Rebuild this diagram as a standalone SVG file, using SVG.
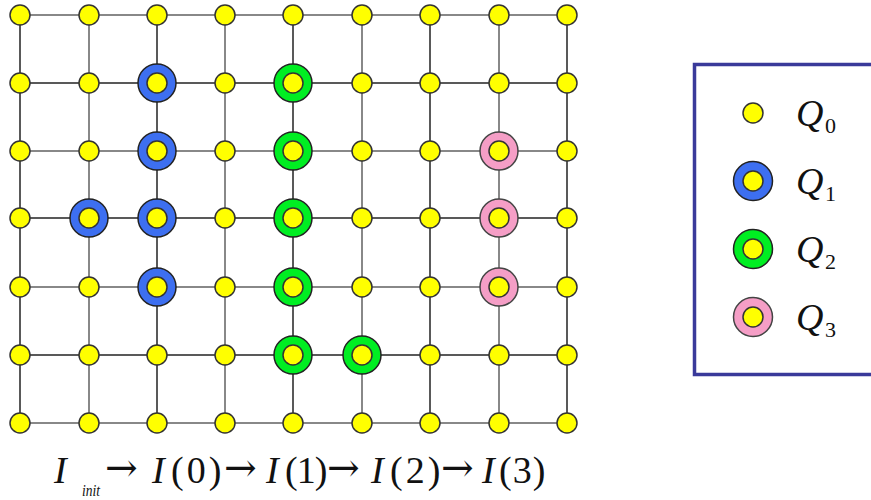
<svg xmlns="http://www.w3.org/2000/svg" width="871" height="500" viewBox="0 0 871 500">
<style>
.gb{stroke:#222;stroke-width:1.5}
.gg{stroke:#888;stroke-width:2}
.n{fill:#ffff00;stroke:#333;stroke-width:1.5}
.b{fill:#3d6ff0;stroke:#222;stroke-width:1.5}
.g{fill:#00ee22;stroke:#222;stroke-width:1.5}
.p{fill:#f59ec6;stroke:#444;stroke-width:1.5}
.t{font-family:"Liberation Serif","Times New Roman",serif;fill:#111}
.i{font-style:italic}
.a{font-family:"DejaVu Serif",serif;font-size:39px;fill:#111}
</style>
<rect width="871" height="500" fill="#fff"/>
<g id="connectors">
<line class="gb" x1="20" y1="15" x2="20" y2="423"/>
<line class="gg" x1="89" y1="15" x2="89" y2="423"/>
<line class="gb" x1="157" y1="15" x2="157" y2="423"/>
<line class="gg" x1="225" y1="15" x2="225" y2="423"/>
<line class="gb" x1="293" y1="15" x2="293" y2="423"/>
<line class="gg" x1="362" y1="15" x2="362" y2="423"/>
<line class="gb" x1="430" y1="15" x2="430" y2="423"/>
<line class="gg" x1="499" y1="15" x2="499" y2="423"/>
<line class="gb" x1="567" y1="15" x2="567" y2="423"/>
<line class="gg" x1="20" y1="15" x2="567" y2="15"/>
<line class="gb" x1="20" y1="83" x2="567" y2="83"/>
<line class="gg" x1="20" y1="151" x2="567" y2="151"/>
<line class="gb" x1="20" y1="218" x2="567" y2="218"/>
<line class="gg" x1="20" y1="287" x2="567" y2="287"/>
<line class="gb" x1="20" y1="355" x2="567" y2="355"/>
<line class="gg" x1="20" y1="423" x2="567" y2="423"/>
</g>
<g id="rings">
<circle class="b" cx="157" cy="83" r="19"/>
<circle class="b" cx="157" cy="151" r="19"/>
<circle class="b" cx="89" cy="218" r="19"/>
<circle class="b" cx="157" cy="218" r="19"/>
<circle class="b" cx="157" cy="287" r="19"/>
<circle class="g" cx="293" cy="83" r="19"/>
<circle class="g" cx="293" cy="151" r="19"/>
<circle class="g" cx="293" cy="218" r="19"/>
<circle class="g" cx="293" cy="287" r="19"/>
<circle class="g" cx="293" cy="355" r="19"/>
<circle class="g" cx="362" cy="355" r="19"/>
<circle class="p" cx="499" cy="151" r="19"/>
<circle class="p" cx="499" cy="218" r="19"/>
<circle class="p" cx="499" cy="287" r="19"/>
</g>
<g id="nodes">
<g id="r0"><circle class="n" cx="20" cy="15" r="10"/><circle class="n" cx="89" cy="15" r="10"/><circle class="n" cx="157" cy="15" r="10"/><circle class="n" cx="225" cy="15" r="10"/><circle class="n" cx="293" cy="15" r="10"/><circle class="n" cx="362" cy="15" r="10"/><circle class="n" cx="430" cy="15" r="10"/><circle class="n" cx="499" cy="15" r="10"/><circle class="n" cx="567" cy="15" r="10"/></g>
<g id="r1"><circle class="n" cx="20" cy="83" r="10"/><circle class="n" cx="89" cy="83" r="10"/><circle class="n" cx="157" cy="83" r="10"/><circle class="n" cx="225" cy="83" r="10"/><circle class="n" cx="293" cy="83" r="10"/><circle class="n" cx="362" cy="83" r="10"/><circle class="n" cx="430" cy="83" r="10"/><circle class="n" cx="499" cy="83" r="10"/><circle class="n" cx="567" cy="83" r="10"/></g>
<g id="r2"><circle class="n" cx="20" cy="151" r="10"/><circle class="n" cx="89" cy="151" r="10"/><circle class="n" cx="157" cy="151" r="10"/><circle class="n" cx="225" cy="151" r="10"/><circle class="n" cx="293" cy="151" r="10"/><circle class="n" cx="362" cy="151" r="10"/><circle class="n" cx="430" cy="151" r="10"/><circle class="n" cx="499" cy="151" r="10"/><circle class="n" cx="567" cy="151" r="10"/></g>
<g id="r3"><circle class="n" cx="20" cy="218" r="10"/><circle class="n" cx="89" cy="218" r="10"/><circle class="n" cx="157" cy="218" r="10"/><circle class="n" cx="225" cy="218" r="10"/><circle class="n" cx="293" cy="218" r="10"/><circle class="n" cx="362" cy="218" r="10"/><circle class="n" cx="430" cy="218" r="10"/><circle class="n" cx="499" cy="218" r="10"/><circle class="n" cx="567" cy="218" r="10"/></g>
<g id="r4"><circle class="n" cx="20" cy="287" r="10"/><circle class="n" cx="89" cy="287" r="10"/><circle class="n" cx="157" cy="287" r="10"/><circle class="n" cx="225" cy="287" r="10"/><circle class="n" cx="293" cy="287" r="10"/><circle class="n" cx="362" cy="287" r="10"/><circle class="n" cx="430" cy="287" r="10"/><circle class="n" cx="499" cy="287" r="10"/><circle class="n" cx="567" cy="287" r="10"/></g>
<g id="r5"><circle class="n" cx="20" cy="355" r="10"/><circle class="n" cx="89" cy="355" r="10"/><circle class="n" cx="157" cy="355" r="10"/><circle class="n" cx="225" cy="355" r="10"/><circle class="n" cx="293" cy="355" r="10"/><circle class="n" cx="362" cy="355" r="10"/><circle class="n" cx="430" cy="355" r="10"/><circle class="n" cx="499" cy="355" r="10"/><circle class="n" cx="567" cy="355" r="10"/></g>
<g id="r6"><circle class="n" cx="20" cy="423" r="10"/><circle class="n" cx="89" cy="423" r="10"/><circle class="n" cx="157" cy="423" r="10"/><circle class="n" cx="225" cy="423" r="10"/><circle class="n" cx="293" cy="423" r="10"/><circle class="n" cx="362" cy="423" r="10"/><circle class="n" cx="430" cy="423" r="10"/><circle class="n" cx="499" cy="423" r="10"/><circle class="n" cx="567" cy="423" r="10"/></g>
</g>
<g id="legend">
<rect x="694.5" y="64.5" width="190" height="310" fill="#fff" stroke="#3a3a9a" stroke-width="3.5"/>
<circle class="n" cx="753" cy="113" r="10"/>
<circle class="b" cx="753" cy="181" r="19.5"/><circle class="n" cx="753" cy="181" r="10"/>
<circle class="g" cx="753" cy="249" r="19.5"/><circle class="n" cx="753" cy="249" r="10"/>
<circle class="p" cx="753" cy="317" r="19.5"/><circle class="n" cx="753" cy="317" r="10"/>
<text class="t i" x="796" y="126" font-size="38">Q</text><text class="t" x="825" y="133" font-size="22">0</text>
<text class="t i" x="796" y="194" font-size="38">Q</text><text class="t" x="825" y="201" font-size="22">1</text>
<text class="t i" x="796" y="262" font-size="38">Q</text><text class="t" x="825" y="269" font-size="22">2</text>
<text class="t i" x="796" y="330" font-size="38">Q</text><text class="t" x="825" y="337" font-size="22">3</text>
</g>
<g id="caption" font-size="38">
<text class="t i" x="54" y="483">I</text>
<text class="t i" x="82" y="496" font-size="16" textLength="18" lengthAdjust="spacingAndGlyphs">init</text>
<text class="a" x="105" y="481">→</text>
<text class="t" x="152" y="483"><tspan class="i">I</tspan><tspan x="171" letter-spacing="3">(0)</tspan></text>
<text class="a" x="224" y="481">→</text>
<text class="t" x="266" y="483"><tspan class="i">I</tspan><tspan x="285" letter-spacing="-1">(1)</tspan></text>
<text class="a" x="327" y="481">→</text>
<text class="t" x="371" y="483"><tspan class="i">I</tspan><tspan x="390" letter-spacing="3">(2)</tspan></text>
<text class="a" x="441" y="481">→</text>
<text class="t" x="482" y="483"><tspan class="i">I</tspan><tspan x="499" letter-spacing="1">(3)</tspan></text>
</g>
</svg>
